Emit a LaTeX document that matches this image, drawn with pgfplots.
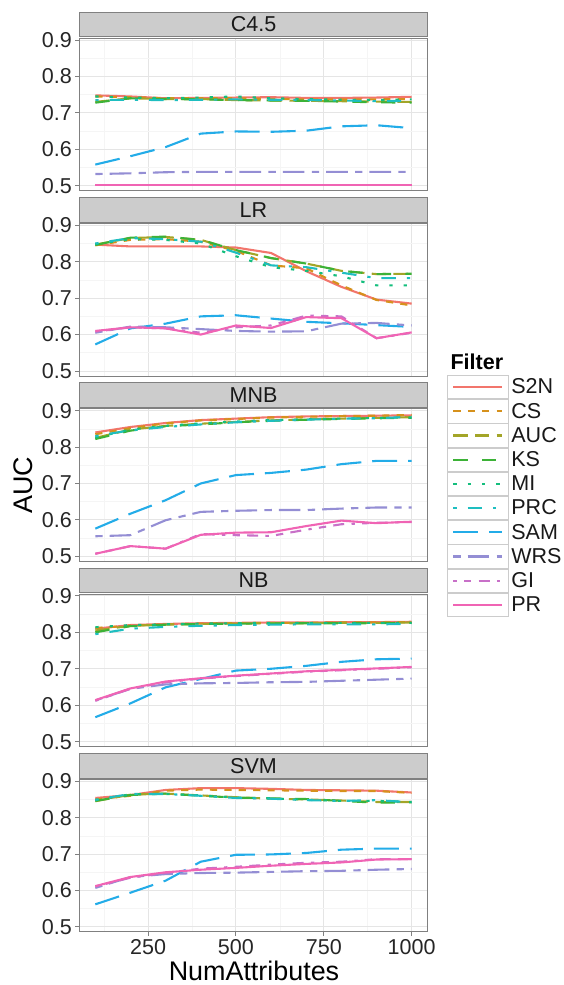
\documentclass[border=0pt]{standalone}
\usepackage{pgfplots}
\usepackage{pgfplotstable}
\pgfplotsset{compat=1.18}
\usepackage{fontspec}
\setmainfont{Liberation Sans}

\definecolor{cS2N}{RGB}{242,117,108}
\definecolor{cCS}{RGB}{214,145,28}
\definecolor{cAUC}{RGB}{163,165,40}
\definecolor{cKS}{RGB}{60,178,55}
\definecolor{cMI}{RGB}{20,190,125}
\definecolor{cPRC}{RGB}{30,190,192}
\definecolor{cSAM}{RGB}{35,172,232}
\definecolor{cWRS}{RGB}{148,142,212}
\definecolor{cGI}{RGB}{200,112,200}
\definecolor{cPR}{RGB}{240,100,180}

\pgfplotstableread{
x S2N CS AUC KS MI PRC SAM WRS GI PR
100 0.748 0.745 0.730 0.728 0.745 0.735 0.558 0.532 0.502 0.502
200 0.745 0.743 0.740 0.740 0.742 0.736 0.581 0.534 0.502 0.502
300 0.740 0.740 0.738 0.738 0.740 0.735 0.606 0.537 0.502 0.502
400 0.741 0.740 0.738 0.737 0.742 0.736 0.643 0.538 0.502 0.502
500 0.742 0.740 0.735 0.735 0.745 0.737 0.649 0.538 0.502 0.502
600 0.743 0.738 0.734 0.734 0.740 0.736 0.648 0.538 0.502 0.502
700 0.741 0.737 0.733 0.733 0.738 0.735 0.651 0.538 0.502 0.502
800 0.741 0.737 0.732 0.731 0.736 0.734 0.663 0.538 0.502 0.502
900 0.742 0.737 0.731 0.729 0.735 0.732 0.666 0.538 0.502 0.502
1000 0.744 0.738 0.730 0.728 0.737 0.733 0.658 0.538 0.502 0.502
}\tabA

\pgfplotstableread{
x S2N CS AUC KS MI PRC SAM WRS GI PR
100 0.847 0.845 0.847 0.846 0.848 0.850 0.573 0.605 0.608 0.610
200 0.842 0.860 0.865 0.866 0.862 0.865 0.617 0.622 0.620 0.620
300 0.842 0.862 0.868 0.869 0.860 0.862 0.630 0.620 0.617 0.617
400 0.842 0.855 0.860 0.860 0.850 0.855 0.650 0.615 0.605 0.600
500 0.839 0.830 0.832 0.832 0.815 0.825 0.653 0.610 0.620 0.625
600 0.824 0.790 0.810 0.810 0.785 0.790 0.644 0.608 0.625 0.618
700 0.774 0.782 0.795 0.795 0.775 0.785 0.635 0.609 0.652 0.648
800 0.731 0.735 0.775 0.775 0.760 0.770 0.631 0.630 0.650 0.645
900 0.696 0.695 0.766 0.766 0.735 0.755 0.626 0.632 0.590 0.590
1000 0.685 0.680 0.767 0.767 0.735 0.755 0.621 0.625 0.605 0.606
}\tabB

\pgfplotstableread{
x S2N CS AUC KS MI PRC SAM WRS GI PR
100 0.840 0.835 0.825 0.822 0.826 0.830 0.576 0.555 0.507 0.507
200 0.855 0.852 0.848 0.845 0.848 0.846 0.617 0.558 0.528 0.528
300 0.866 0.865 0.858 0.857 0.858 0.855 0.654 0.599 0.521 0.521
400 0.874 0.873 0.864 0.862 0.865 0.862 0.700 0.622 0.561 0.559
500 0.878 0.877 0.869 0.868 0.870 0.868 0.723 0.625 0.558 0.565
600 0.882 0.881 0.873 0.872 0.874 0.872 0.729 0.627 0.556 0.566
700 0.884 0.883 0.876 0.875 0.876 0.875 0.738 0.627 0.573 0.583
800 0.885 0.885 0.878 0.877 0.878 0.878 0.753 0.631 0.588 0.598
900 0.886 0.886 0.880 0.879 0.880 0.879 0.762 0.634 0.592 0.591
1000 0.887 0.888 0.882 0.880 0.881 0.883 0.762 0.634 0.594 0.595
}\tabC

\pgfplotstableread{
x S2N CS AUC KS MI PRC SAM WRS GI PR
100 0.810 0.812 0.805 0.800 0.814 0.795 0.567 0.613 0.612 0.614
200 0.820 0.818 0.818 0.817 0.820 0.810 0.605 0.645 0.645 0.646
300 0.823 0.822 0.821 0.821 0.822 0.815 0.649 0.657 0.663 0.665
400 0.825 0.824 0.823 0.823 0.824 0.818 0.672 0.660 0.673 0.674
500 0.826 0.825 0.824 0.824 0.825 0.820 0.695 0.661 0.680 0.681
600 0.827 0.826 0.825 0.824 0.826 0.821 0.700 0.663 0.686 0.687
700 0.827 0.826 0.825 0.825 0.826 0.822 0.708 0.664 0.692 0.693
800 0.828 0.827 0.826 0.825 0.826 0.822 0.719 0.667 0.696 0.697
900 0.828 0.827 0.826 0.825 0.826 0.822 0.726 0.670 0.700 0.701
1000 0.829 0.828 0.827 0.826 0.826 0.823 0.728 0.673 0.704 0.705
}\tabD

\pgfplotstableread{
x S2N CS AUC KS MI PRC SAM WRS GI PR
100 0.854 0.850 0.845 0.846 0.848 0.849 0.562 0.607 0.611 0.612
200 0.862 0.860 0.863 0.862 0.864 0.865 0.594 0.637 0.635 0.637
300 0.876 0.874 0.866 0.866 0.865 0.865 0.627 0.645 0.648 0.650
400 0.881 0.877 0.861 0.860 0.861 0.860 0.679 0.648 0.660 0.657
500 0.881 0.876 0.856 0.855 0.855 0.854 0.698 0.649 0.665 0.662
600 0.879 0.875 0.852 0.853 0.853 0.852 0.699 0.651 0.671 0.668
700 0.876 0.874 0.850 0.851 0.849 0.848 0.703 0.653 0.676 0.673
800 0.875 0.873 0.847 0.846 0.846 0.846 0.712 0.654 0.679 0.677
900 0.874 0.873 0.843 0.841 0.846 0.848 0.715 0.657 0.686 0.685
1000 0.869 0.868 0.843 0.842 0.843 0.842 0.715 0.659 0.686 0.686
}\tabE

\newcommand\tfont{\fontsize{21.6}{24}\selectfont}
\newcommand\afont{\fontsize{27}{30}\selectfont}

\pgfplotsset{
  lw/.style={line width=2.1bp},
  sS2N/.style={lw, color=cS2N, solid},
  sCS/.style={lw, color=cCS, dash pattern=on 7.2bp off 7.2bp},
  sAUC/.style={lw, color=cAUC, dash pattern=on 14.3bp off 7.3bp},
  sKS/.style={lw, color=cKS, dash pattern=on 14.3bp off 14.3bp},
  sMI/.style={lw, color=cMI, dash pattern=on 3.3bp off 11bp},
  sPRC/.style={lw, color=cPRC, dash pattern=on 3.3bp off 11bp on 14.3bp off 11bp},
  sSAM/.style={lw, color=cSAM, dash pattern=on 25bp off 11bp},
  sWRS/.style={lw, color=cWRS, dash pattern=on 7.3bp off 7bp on 21.7bp off 7.3bp},
  sGI/.style={lw, color=cGI, dash pattern=on 3.3bp off 7.3bp on 7.3bp off 7.3bp on 11bp off 7.3bp},
  sPR/.style={lw, color=cPR, solid},
  panel/.style={
    width=348bp, height=152.4bp, scale only axis,
    anchor=north west,
    xmin=55, xmax=1045, ymin=0.4863, ymax=0.9047,
    xtick={250,500,750,1000}, ytick={0.5,0.6,0.7,0.8,0.9},
    minor xtick={125,375,625,875}, minor ytick={0.45,0.55,0.65,0.75,0.85},
    grid=both,
    major grid style={draw=black!10, line width=0.9bp},
    minor grid style={draw=black!4, line width=0.6bp},
    axis line style={draw=black!50, line width=0.9bp},
    tick align=outside, major tick length=4.25bp, minor tick length=0pt,
    xtick pos=left, ytick pos=left,
    tick style={draw=black!50, line width=0.9bp},
    ticklabel style={font=\tfont, text=black!85},
    /pgf/number format/assume math mode=true,
    /pgf/number format/set thousands separator={},
    yticklabel style={/pgf/number format/.cd, fixed, fixed zerofill, precision=1},
    clip=false,
  },
  upper/.style={xticklabels={}, xtick style={draw=none}},
}

\newcommand\allseries[1]{%
  \addplot[sS2N] table[x=x,y=S2N]{#1};
  \addplot[sCS] table[x=x,y=CS]{#1};
  \addplot[sAUC] table[x=x,y=AUC]{#1};
  \addplot[sKS] table[x=x,y=KS]{#1};
  \addplot[sMI] table[x=x,y=MI]{#1};
  \addplot[sPRC] table[x=x,y=PRC]{#1};
  \addplot[sSAM] table[x=x,y=SAM]{#1};
  \addplot[sWRS] table[x=x,y=WRS]{#1};
  \addplot[sGI] table[x=x,y=GI]{#1};
  \addplot[sPR] table[x=x,y=PR]{#1};
}
\newcommand\strip[1]{%
  \draw[draw=black!50, fill=black!20, line width=0.9bp]
    (axis description cs:0,1.0098) rectangle (axis description cs:1,1.1706);
  \node[font=\tfont, text=black!90] at (axis description cs:0.5,1.09) {#1};
}

\begin{document}
\begin{tikzpicture}
\path[use as bounding box] (0,0) rectangle (564bp,985bp);

\begin{axis}[panel, upper, at={(79.5bp,946.7bp)}]
\allseries{\tabA}
\strip{C4.5}
\end{axis}

\begin{axis}[panel, upper, at={(79.5bp,761.4bp)}]
\allseries{\tabB}
\strip{LR}
\end{axis}

\begin{axis}[panel, upper, at={(79.5bp,576.1bp)},
  legend style={at={(axis description cs:1.056,1.2224)}, anchor=north west,
    draw=none, fill=none, font=\tfont, row sep=0pt, column sep=0pt,
    inner sep=0pt, outer sep=0pt,
    nodes={inner xsep=2.5bp, inner ysep=0pt, text=black!90}},
  legend cell align=left,
  legend image code/.code={
    \draw[draw=black!20, fill=white, solid, line width=0.9bp] (0bp,-11.65bp) rectangle (61bp,11.65bp);
    \draw[#1] (6bp,0bp) -- (55bp,0bp);
  },
]
\allseries{\tabC}
\strip{MNB}
\legend{S2N,CS,AUC,KS,MI,PRC,SAM,WRS,GI,PR}
\end{axis}

\begin{axis}[panel, upper, at={(79.5bp,390.8bp)}]
\allseries{\tabD}
\strip{NB}
\end{axis}

\begin{axis}[panel, at={(79.5bp,205.5bp)}]
\allseries{\tabE}
\strip{SVM}
\end{axis}

\node[anchor=base west, font=\bfseries\tfont] at (447bp,615bp) {Filter};
\node[rotate=90, font=\afont] at (23bp,499.9bp) {AUC};
\node[anchor=base, font=\afont] at (254bp,5bp) {NumAttributes};
\end{tikzpicture}
\end{document}
